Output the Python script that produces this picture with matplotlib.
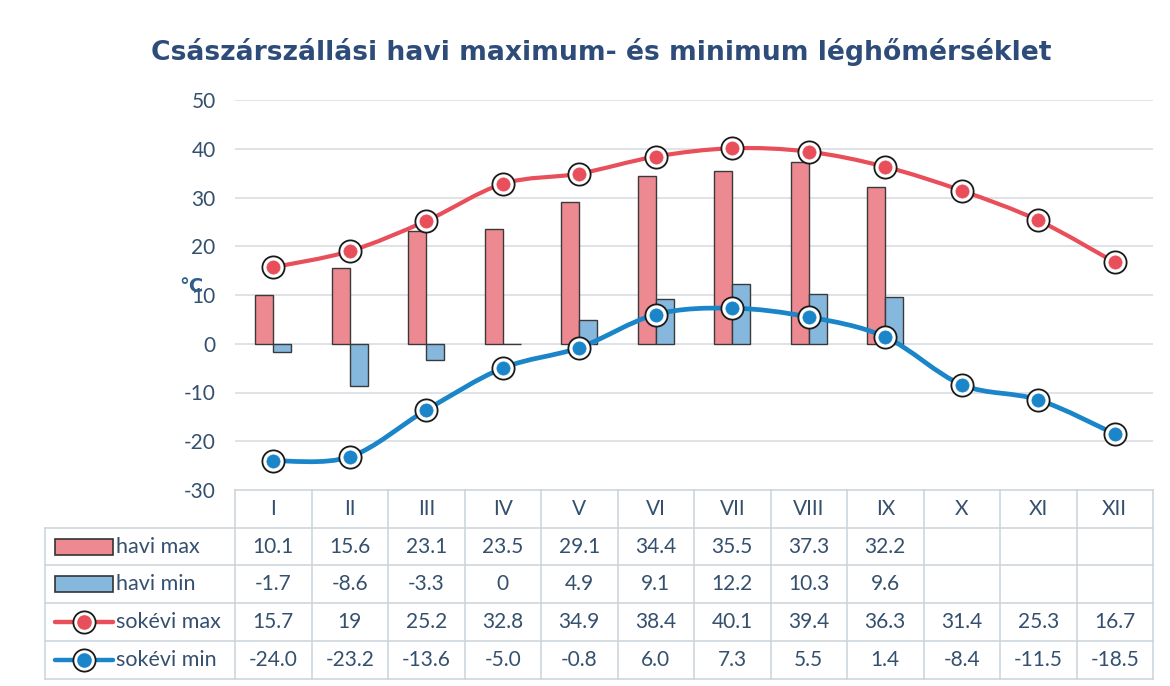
import numpy as np
import matplotlib
matplotlib.use("Agg")
import matplotlib.pyplot as plt
from matplotlib.path import Path
from matplotlib.patches import PathPatch, Rectangle
from matplotlib.lines import Line2D
import matplotlib.transforms as mtransforms

plt.rcParams['axes.unicode_minus'] = False

months = ['I', 'II', 'III', 'IV', 'V', 'VI', 'VII', 'VIII', 'IX', 'X', 'XI', 'XII']
havi_max = [10.1, 15.6, 23.1, 23.5, 29.1, 34.4, 35.5, 37.3, 32.2, None, None, None]
havi_min = [-1.7, -8.6, -3.3, 0, 4.9, 9.1, 12.2, 10.3, 9.6, None, None, None]
sokevi_max = [15.7, 19, 25.2, 32.8, 34.9, 38.4, 40.1, 39.4, 36.3, 31.4, 25.3, 16.7]
sokevi_min = [-24.0, -23.2, -13.6, -5.0, -0.8, 6.0, 7.3, 5.5, 1.4, -8.4, -11.5, -18.5]
series_names = ['havi max', 'havi min', 'sokévi max', 'sokévi min']
title = 'Császárszállási havi maximum- és minimum léghőmérséklet'

RED_BAR = '#ec8991'
BLUE_BAR = '#86b8de'
RED_LINE = '#e84f5a'
BLUE_LINE = '#1a85c8'
TXT = '#34506e'
GRID = '#d6dbe0'
TBL = '#c9d3db'

fig = plt.figure(figsize=(11.7, 6.86), dpi=100)
fig.patch.set_facecolor('white')
W, H = 1170, 686
ax = fig.add_axes([235 / W, 1 - 490 / H, 918 / W, 390 / H])
ax.set_xlim(-0.5, 11.5)
ax.set_ylim(-30, 50)
for s in ax.spines.values():
    s.set_visible(False)
ax.set_xticks([])
ax.set_yticks(np.arange(-30, 51, 10))
ax.tick_params(axis='y', length=0, pad=14, labelsize=15, labelcolor=TXT)
for lab in ax.get_yticklabels():
    lab.set_fontfamily('Lato')
for v in range(-20, 51, 10):
    ax.axhline(v, color=GRID, lw=1.1, zorder=0)

x = np.arange(len(months))
bw = 0.235
hm = np.array([np.nan if v is None else v for v in havi_max], float)
hn = np.array([np.nan if v is None else v for v in havi_min], float)
ax.bar(x - bw / 2, hm, width=bw, color=RED_BAR, edgecolor='#3a3a3a', lw=1.0, zorder=2)
ax.bar(x + bw / 2, hn, width=bw, color=BLUE_BAR, edgecolor='#3a3a3a', lw=1.0, zorder=2)


def smooth_path(xv, yv):
    pts = np.column_stack([xv, yv]).astype(float)
    verts = [pts[0]]
    codes = [Path.MOVETO]
    n = len(pts)
    for i in range(n - 1):
        p0 = pts[i - 1] if i > 0 else pts[i]
        p1 = pts[i]
        p2 = pts[i + 1]
        p3 = pts[i + 2] if i + 2 < n else pts[i + 1]
        c1 = p1 + (p2 - p0) / 6.0
        c2 = p2 - (p3 - p1) / 6.0
        verts += [c1, c2, p2]
        codes += [Path.CURVE4] * 3
    return Path(verts, codes)


for vals, col, lw in [(sokevi_max, RED_LINE, 3.0), (sokevi_min, BLUE_LINE, 3.4)]:
    ax.add_patch(PathPatch(smooth_path(x, vals), fill=False, edgecolor=col, lw=lw,
                           zorder=3, capstyle='round'))
    ax.plot(x, vals, ls='none', marker='o', ms=16, mfc='white', mec='#1a1a1a',
            mew=1.3, zorder=4, clip_on=False)
    ax.plot(x, vals, ls='none', marker='o', ms=9.5, mfc=col, mec=col,
            mew=0.5, zorder=5, clip_on=False)

# title and axis label
fig.text(601 / W, 1 - 52 / H, title, ha='center', va='center', fontsize=19.2,
         fontweight='bold', color='#2e4c7a', family='DejaVu Sans')
fig.text(191 / W, 1 - 287 / H, '°C', ha='center', va='center', fontsize=14,
         fontweight='bold', color='#2f5d8a', family='DejaVu Sans')

# data table below the plot
trans = mtransforms.blended_transform_factory(ax.transData, ax.transAxes)
rh = 37.7 / 390
xl = -0.5 + (45 - 235) / 76.5
xr = 11.5


def hline(y, x0, x1):
    ax.add_line(Line2D([x0, x1], [y, y], transform=trans, color=TBL, lw=1.1, clip_on=False))


def vline(xx, y0, y1):
    ax.add_line(Line2D([xx, xx], [y0, y1], transform=trans, color=TBL, lw=1.1, clip_on=False))


hline(0, -0.5, xr)
for r in range(1, 6):
    hline(-r * rh, xl, xr)
vline(xl, -rh, -5 * rh)
for k in range(len(months) + 1):
    vline(k - 0.5, 0, -5 * rh)

tfont = dict(fontsize=15, color=TXT, family='Lato', ha='center', va='center')
for i, m in enumerate(months):
    ax.text(i, -0.5 * rh, m, transform=trans, clip_on=False, **tfont)

rows = [(havi_max, '{:g}'), (havi_min, '{:g}'), (sokevi_max, '{:g}'), (sokevi_min, '{:.1f}')]
for r, (vals, fmt) in enumerate(rows):
    yc = -(r + 1.5) * rh
    for i, v in enumerate(vals):
        if v is not None:
            ax.text(i, yc, fmt.format(v), transform=trans, clip_on=False, **tfont)

# row labels with legend keys
sx0 = -0.5 + (55 - 235) / 76.5
sx1 = -0.5 + (113 - 235) / 76.5
tx = -0.5 + (116 - 235) / 76.5
sh = 16 / 390
for r, name in enumerate(series_names):
    yc = -(r + 1.5) * rh
    if r < 2:
        ax.add_patch(Rectangle((sx0, yc - sh / 2), sx1 - sx0, sh, transform=trans,
                               facecolor=[RED_BAR, BLUE_BAR][r], edgecolor='#333333',
                               lw=1.2, clip_on=False))
    else:
        col = [RED_LINE, BLUE_LINE][r - 2]
        ax.add_line(Line2D([sx0, sx1], [yc, yc], transform=trans, color=col, lw=3.2,
                           clip_on=False, solid_capstyle='round'))
        xm = (sx0 + sx1) / 2
        ax.add_line(Line2D([xm], [yc], transform=trans, marker='o', ms=16, mfc='white',
                           mec='#1a1a1a', mew=1.3, ls='none', clip_on=False))
        ax.add_line(Line2D([xm], [yc], transform=trans, marker='o', ms=9.5, mfc=col,
                           mec=col, ls='none', clip_on=False))
    ax.text(tx, yc, name, transform=trans, clip_on=False, fontsize=15.5, color=TXT,
            family='Lato', ha='left', va='center')

fig.savefig('out.png', dpi=100, facecolor='white')
